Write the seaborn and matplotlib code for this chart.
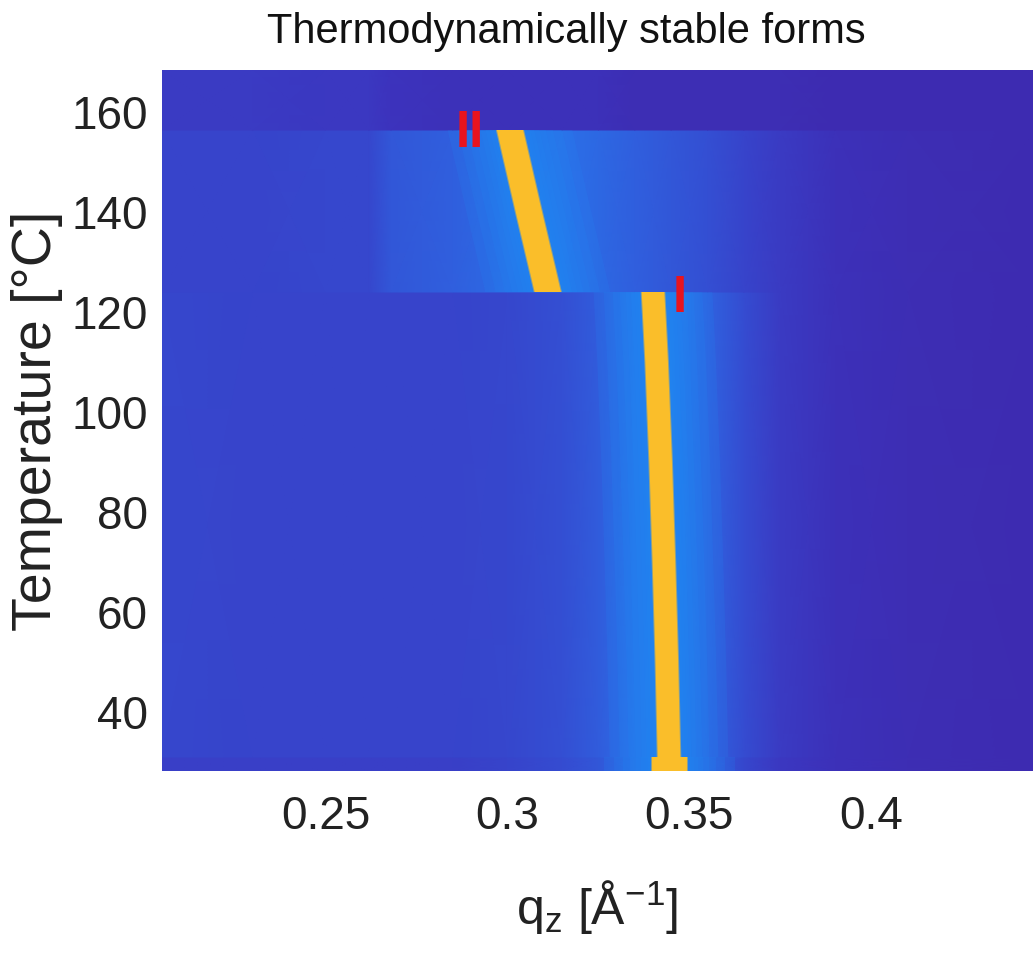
import numpy as np
import matplotlib
matplotlib.use("Agg")
import matplotlib.pyplot as plt
from matplotlib.colors import LinearSegmentedColormap
from matplotlib.patches import Rectangle
import seaborn as sns

# ---------------------------------------------------------------- data
# axis window (q in 1/Angstrom, temperature in deg C)
q_window = [0.2051, 0.4444]
t_window = [28.2, 168.4]

# temperature blocks of the heating run
block_lo = [28.2, 31.0, 124.0, 156.4]
block_hi = [31.0, 124.0, 156.4, 168.4]

# diffuse background level (colour-scale fraction) across q, per block
q_bg = [0.205, 0.23, 0.25, 0.262, 0.268, 0.285, 0.30, 0.315, 0.325,
        0.335, 0.345, 0.355, 0.365, 0.375, 0.39, 0.41, 0.445]
bg_start = [0.08, 0.08, 0.08, 0.08, 0.08, 0.08, 0.09, 0.11, 0.14,
            0.19, 0.21, 0.16, 0.10, 0.06, 0.04, 0.03, 0.02]
bg_form_I = [0.10, 0.09, 0.09, 0.09, 0.09, 0.09, 0.10, 0.12, 0.15,
             0.20, 0.22, 0.17, 0.11, 0.07, 0.04, 0.03, 0.02]
bg_form_II = [0.09, 0.09, 0.10, 0.10, 0.14, 0.16, 0.19, 0.20, 0.18,
              0.16, 0.14, 0.12, 0.09, 0.07, 0.04, 0.03, 0.02]
bg_melt = [0.07, 0.07, 0.06, 0.06, 0.05, 0.04, 0.04, 0.04, 0.04,
           0.03, 0.03, 0.03, 0.03, 0.03, 0.02, 0.02, 0.02]
bg_blocks = [bg_start, bg_form_I, bg_form_II, bg_melt]

# Bragg peak position vs temperature
start_T = [28.2, 31.0]
start_q = [0.3445, 0.3445]
form_I_T = [31.0, 50.0, 70.0, 90.0, 110.0, 124.0]
form_I_q = [0.3444, 0.3438, 0.3430, 0.3421, 0.3410, 0.3400]
form_II_T = [124.0, 140.0, 156.4]
form_II_q = [0.3111, 0.3059, 0.3007]

# peak widths in q
start_w = 0.0096
form_I_w = 0.0062
form_II_w = 0.0070

peak_level = 0.85
halo_level = 0.27

x_ticks = [0.25, 0.3, 0.35, 0.4]
x_tick_labels = ["0.25", "0.3", "0.35", "0.4"]
y_ticks = [40, 60, 80, 100, 120, 140, 160]

# ---------------------------------------------------------------- style
sns.set_theme(style="white")
plt.rcParams["font.family"] = ["Liberation Sans", "DejaVu Sans"]
plt.rcParams["mathtext.fontset"] = "custom"
plt.rcParams["mathtext.rm"] = "Liberation Sans"
plt.rcParams["mathtext.default"] = "regular"
text_col = "#222222"

# parula-like colour scale
scale_pts = [
    (0.00, (62, 38, 168)), (0.05, (60, 52, 190)), (0.10, (54, 72, 206)),
    (0.15, (49, 92, 220)), (0.20, (43, 112, 232)), (0.27, (33, 136, 243)),
    (0.36, (14, 165, 230)), (0.45, (20, 185, 200)), (0.55, (90, 200, 130)),
    (0.65, (180, 195, 70)), (0.75, (235, 185, 45)), (0.85, (250, 190, 42)),
    (1.00, (249, 251, 20))]
parula = LinearSegmentedColormap.from_list(
    "parula", [(v, tuple(c / 255 for c in rgb)) for v, rgb in scale_pts], N=256)

W, H, DPI = 1033, 956, 100
fig = plt.figure(figsize=(W / DPI, H / DPI), dpi=DPI)
ax_left, ax_right, ax_top, ax_bottom = 162, 1033, 70, 771
ax = fig.add_axes([ax_left / W, 1 - ax_bottom / H,
                   (ax_right - ax_left) / W, (ax_bottom - ax_top) / H])
ax.set_xlim(*q_window)
ax.set_ylim(*t_window)
ax.set_facecolor(parula(0.03))

# ---------------------------------------------------------------- background
for lo, hi, bg in zip(block_lo, block_hi, bg_blocks):
    X, Y = np.meshgrid(q_bg, [lo, hi])
    C = np.vstack([bg, bg])
    ax.pcolormesh(X, Y, C, cmap=parula, vmin=0, vmax=1, shading="gouraud",
                  rasterized=True)

# ---------------------------------------------------------------- peaks
px_per_q = (ax_right - ax_left) / (q_window[1] - q_window[0])
pt_per_px = 72.0 / DPI
halo_extra = [96, 76, 58, 44, 32, 22, 14, 8, 3]


def draw_peak(q, T, width_q, lo, hi):
    clip = Rectangle((q_window[0], lo), q_window[1] - q_window[0], hi - lo,
                     transform=ax.transData)
    w_px = width_q * px_per_q
    layers = [(w_px + e, parula(halo_level), 0.17) for e in halo_extra]
    layers += [(w_px + 2, parula(peak_level), 0.5), (w_px, parula(peak_level), 1.0)]
    for lw_px, col, alpha in layers:
        sns.lineplot(x=q, y=T, sort=False, estimator=None, color=col,
                     alpha=alpha, lw=lw_px * pt_per_px, ax=ax)
        line = ax.lines[-1]
        line.set_solid_capstyle("projecting")
        line.set_clip_path(clip)


draw_peak(start_q, start_T, start_w, block_lo[0], block_hi[0])
draw_peak(form_I_q, form_I_T, form_I_w, block_lo[1], block_hi[1])
draw_peak(form_II_q, form_II_T, form_II_w, block_lo[2], block_hi[2])

# phase markers
marker_red = "#e8141e"
ax.text(0.2897, 153.0, "II", color=marker_red, fontsize=37, fontweight="bold",
        ha="center", va="baseline")
ax.text(0.3474, 120.0, "I", color=marker_red, fontsize=37, fontweight="bold",
        ha="center", va="baseline")

# ---------------------------------------------------------------- axes
ax.set_xticks(x_ticks)
ax.set_xticklabels(x_tick_labels)
ax.set_yticks(y_ticks)
ax.tick_params(axis="both", length=0, labelsize=33, colors=text_col)
ax.tick_params(axis="x", pad=17)
ax.tick_params(axis="y", pad=10)
for s in ax.spines.values():
    s.set_visible(False)
ax.grid(False)

ax.set_xlabel("q$_z$ [Å$^{-1}$]", fontsize=36, color=text_col, labelpad=28)
ax.set_ylabel("Temperature [°C]", fontsize=40, color=text_col, labelpad=6)

fig.text(566 / W, 1 - 43 / H, "Thermodynamically stable forms", fontsize=30,
         color="#111111", ha="center", va="baseline")

fig.savefig("out.png", dpi=DPI)
